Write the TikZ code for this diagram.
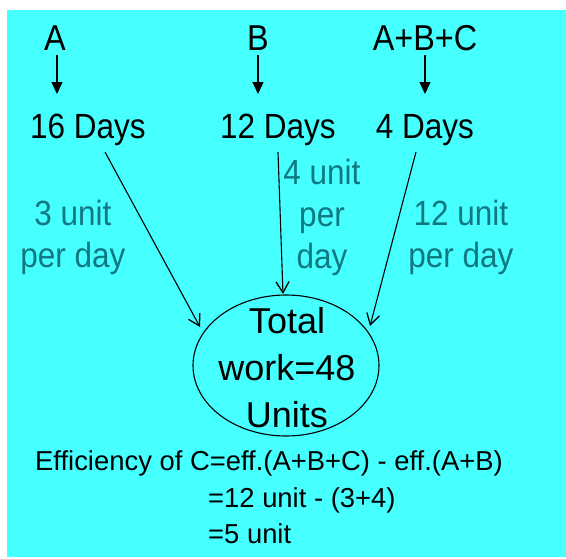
\documentclass[tikz,border=0pt]{standalone}
\usepackage{fontspec}
\setmainfont{Liberation Sans}
\newfontfamily\tallfont[FakeStretch=0.9]{Liberation Sans}
\usetikzlibrary{arrows.meta}
\definecolor{bgcyan}{RGB}{70,255,255}
\definecolor{tealtxt}{RGB}{16,120,128}
\tikzset{
  big/.style={font=\tallfont\fontsize{36}{36}\selectfont, inner sep=0pt, anchor=base},
  days/.style={font=\tallfont\fontsize{35}{35}\selectfont, inner sep=0pt, anchor=base},
  rate/.style={font=\tallfont\fontsize{35}{42}\selectfont, text=tealtxt, inner sep=0pt, anchor=base, align=center},
  eq/.style={font=\fontsize{27.4}{37}\selectfont, inner sep=0pt, anchor=base west},
  shortarr/.style={-{Triangle[width=11pt,length=12pt]}, line width=1.3pt},
  longarr/.style={-{Straight Barb[width=13pt,length=11pt,line width=1.3pt]}, line width=1.1pt},
}
\begin{document}
\begin{tikzpicture}[x=1pt,y=-1pt]
\useasboundingbox (0,0) rectangle (566,558);
\fill[white] (0,0) rectangle (566,558);
\fill[bgcyan] (7,10) rectangle (566,557);
% top labels
\node[big] (a) at (55,50) {A};
\node[big] (b) at (258,50) {B};
\node[big] (abc) at (425,50) {A+B+C};
% days
\node[days] (d16) at (88,138) {16 Days};
\node[days] (d12) at (278,138) {12 Days};
\node[days] (d4) at (425,138) {4 Days};
% short arrows
\coordinate (a1) at (57,55); \coordinate (a2) at (57,94);
\coordinate (b1) at (258,55); \coordinate (b2) at (258,94);
\coordinate (c1) at (425,55); \coordinate (c2) at (425,94);
\draw[shortarr] (a1) -- (a2);
\draw[shortarr] (b1) -- (b2);
\draw[shortarr] (c1) -- (c2);
% ellipse
\draw[line width=1.1pt] (286,365.5) ellipse [x radius=93, y radius=70.5];
\node[font=\fontsize{36}{47}\selectfont, align=center, inner sep=0pt, anchor=base] (tot) at (287,427) {Total\\work=48\\Units};
% long arrows
\coordinate (l1) at (105,152); \coordinate (l2) at (200,327);
\coordinate (m1) at (278,152); \coordinate (m2) at (283,294);
\coordinate (r1) at (416,152); \coordinate (r2) at (370,326);
\draw[longarr] (l1) -- (l2);
\draw[longarr] (m1) -- (m2);
\draw[longarr] (r1) -- (r2);
% rate labels
\node[rate] (ra) at (73,267) {3 unit\\per day};
\node[rate] (rb) at (322,268) {4 unit\\per\\day};
\node[rate] (rc) at (461,267) {12 unit\\per day};
% equations
\node[eq] (e1) at (35,470) {Efficiency of C=eff.(A+B+C) - eff.(A+B)};
\node[eq] (e2) at (208,507) {=12 unit - (3+4)};
\node[eq] (e3) at (208,543) {=5 unit};
\end{tikzpicture}
\end{document}
